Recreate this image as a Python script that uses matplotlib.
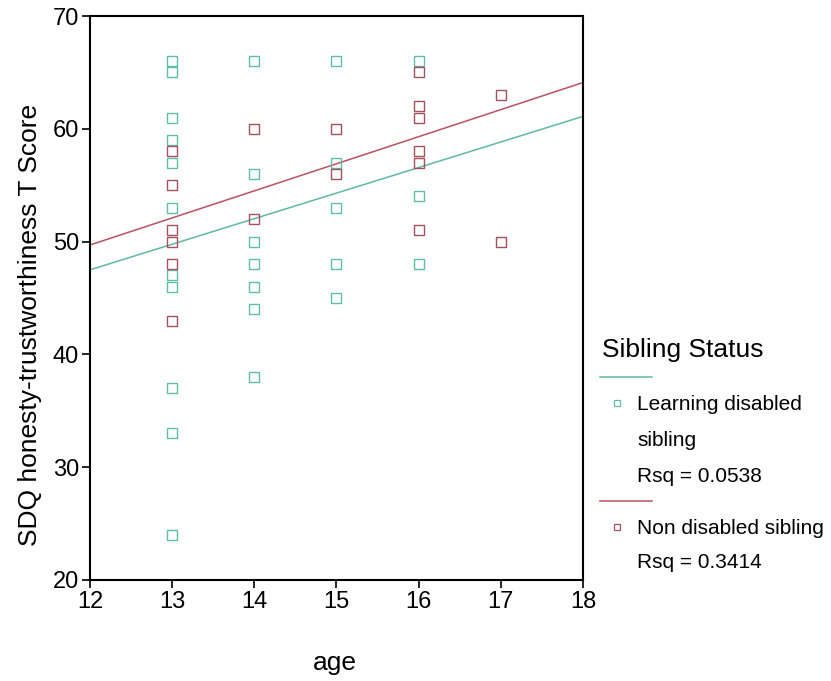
import matplotlib
matplotlib.use("Agg")
import matplotlib.pyplot as plt
from matplotlib.lines import Line2D

plt.rcParams['font.family'] = ['Liberation Sans', 'DejaVu Sans']

# ---- data ----
ld_age = [13]*11 + [14]*7 + [15]*5 + [16]*3
ld_score = [66, 65, 61, 59, 57, 53, 47, 46, 37, 33, 24,
            66, 56, 50, 48, 46, 44, 38,
            66, 57, 53, 48, 45,
            66, 54, 48]
nd_age = [13]*6 + [14]*2 + [15]*2 + [16]*6 + [17]*2
nd_score = [58, 55, 51, 50, 48, 43,
            60, 52,
            60, 56,
            65, 62, 61, 58, 57, 51,
            63, 50]
fit_age = [12, 18]
ld_fit = [47.5, 61.1]
nd_fit = [49.7, 64.1]
x_ticks = [12, 13, 14, 15, 16, 17, 18]
y_ticks = [20, 30, 40, 50, 60, 70]
group_labels = ["Learning disabled\nsibling", "Non disabled sibling"]
rsq_labels = ["Rsq = 0.0538", "Rsq = 0.3414"]

teal = "#5cbfa6"
maroon = "#a5505f"
teal_line = "#5fb8a3"
maroon_line = "#b8525f"

W, H = 831, 681
fig = plt.figure(figsize=(W/100, H/100), dpi=100)
ax = fig.add_axes([90/W, 1-580/H, (583-90)/W, (580-16)/H])

ax.plot(fit_age, ld_fit, color=teal_line, lw=1.1, zorder=2)
ax.plot(fit_age, nd_fit, color=maroon_line, lw=1.1, zorder=2)
ax.plot(ld_age, ld_score, ls='none', marker='s', ms=6.5, mfc='none', mec=teal, mew=1.0, zorder=3)
ax.plot(nd_age, nd_score, ls='none', marker='s', ms=6.5, mfc='none', mec=maroon, mew=1.0, zorder=3)

ax.set_xlim(12, 18)
ax.set_ylim(20, 70)
ax.set_xticks(x_ticks)
ax.set_yticks(y_ticks)
ax.tick_params(axis='both', labelsize=17, length=6, width=1.2, direction='out', colors='black', pad=2)
for s in ax.spines.values():
    s.set_linewidth(1.5)
    s.set_color('black')

# legend and axis titles drawn in pixel coordinates
lg = fig.add_axes([0, 0, 1, 1], zorder=5)
lg.set_xlim(0, W)
lg.set_ylim(H, 0)
lg.axis('off')
lg.text(335, 663, "age", fontsize=19, va='center', ha='center')
lg.text(30, 325, "SDQ honesty-trustworthiness T Score", fontsize=19, va='center', ha='center', rotation=90)
lg.text(602, 350, "Sibling Status", fontsize=19, va='center', ha='left')
lg.add_line(Line2D([600, 652], [377, 377], color=teal_line, lw=1.1))
lg.plot([617], [403], ls='none', marker='s', ms=5, mfc='none', mec=teal, mew=0.9)
lg.text(637, 405, "Learning disabled", fontsize=15, va='center', ha='left')
lg.text(637, 440, "sibling", fontsize=15, va='center', ha='left')
lg.text(637, 476, rsq_labels[0], fontsize=15, va='center', ha='left')
lg.add_line(Line2D([600, 652], [501, 501], color=maroon_line, lw=1.1))
lg.plot([617], [527], ls='none', marker='s', ms=5, mfc='none', mec=maroon, mew=0.9)
lg.text(637, 528, group_labels[1], fontsize=15, va='center', ha='left')
lg.text(637, 562, rsq_labels[1], fontsize=15, va='center', ha='left')

fig.savefig("out.png", dpi=100)
